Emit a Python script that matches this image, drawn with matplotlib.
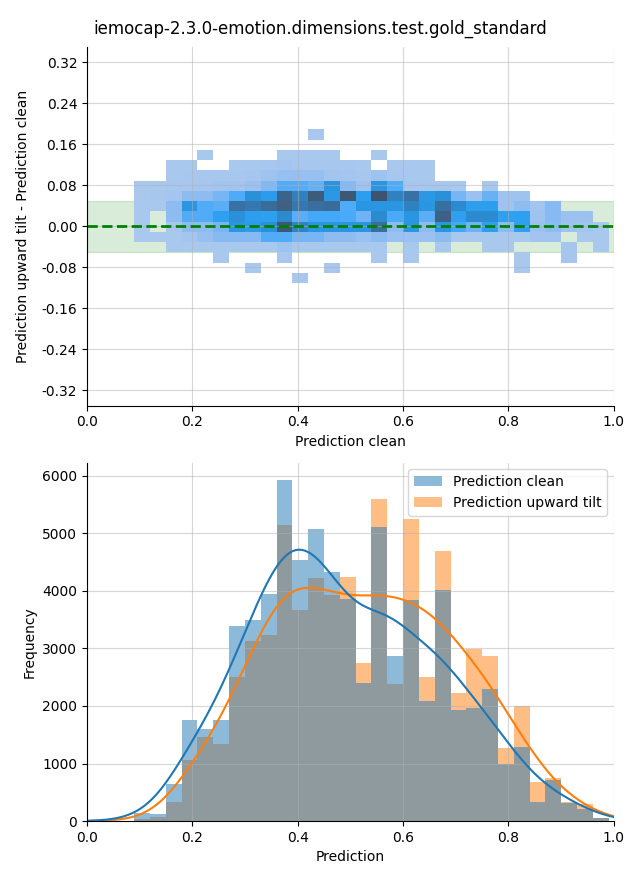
import numpy as np
import pandas as pd
import matplotlib
matplotlib.use("Agg")
import matplotlib.pyplot as plt
import seaborn as sns

title = "iemocap-2.3.0-emotion.dimensions.test.gold_standard"
labels = ["Prediction clean", "Prediction upward tilt"]

# bin layout (30 bins in x, 15 in y)
x_edges = list(np.linspace(0.0895, 0.9905, 31))
y_edges = list(np.linspace(-0.111, 0.189, 16))

# histogram counts per x bin
clean_counts = [140, 122, 647, 1754, 1597, 1754, 3391, 3496, 3949, 5935,
                4530, 5081, 4326, 3862, 2398, 5116, 2869, 3844, 2085, 4019,
                1934, 1969, 2294, 991, 1289, 332, 705, 309, 210, 60]
tilt_counts = [40, 64, 338, 1067, 1463, 1336, 2503, 3130, 3240, 5139,
               3670, 4228, 3931, 4245, 2747, 5604, 2381, 5255, 2503, 4698,
               2224, 2985, 2869, 1271, 1992, 670, 746, 332, 297, 55]

# 2d counts (difference vs clean), rows listed top -> bottom
diff_rows = [
    [0, 0, 0, 0, 0, 0, 0, 0, 0, 0, 0, 20, 0, 0, 0, 0, 0, 0, 0, 0, 0, 0, 0, 0, 0, 0, 0, 0, 0, 0],
    [0, 0, 0, 0, 0, 0, 0, 0, 0, 0, 0, 0, 0, 0, 0, 0, 0, 0, 0, 0, 0, 0, 0, 0, 0, 0, 0, 0, 0, 0],
    [0, 0, 0, 0, 20, 0, 0, 0, 0, 20, 20, 20, 20, 0, 0, 20, 0, 0, 0, 0, 0, 0, 0, 0, 0, 0, 0, 0, 0, 0],
    [0, 0, 20, 20, 0, 0, 20, 20, 25, 50, 30, 30, 30, 25, 20, 0, 20, 20, 20, 0, 0, 0, 0, 0, 0, 0, 0, 0, 0, 0],
    [0, 0, 20, 25, 30, 25, 30, 40, 80, 120, 120, 120, 60, 50, 30, 80, 30, 20, 20, 0, 0, 0, 0, 0, 0, 0, 0, 0, 0, 0],
    [20, 20, 25, 30, 40, 60, 60, 100, 220, 410, 400, 350, 700, 200, 80, 680, 420, 40, 30, 25, 20, 0, 20, 0, 0, 0, 0, 0, 0, 0],
    [20, 25, 50, 170, 170, 270, 420, 750, 600, 1300, 930, 1400, 660, 1450, 580, 1500, 930, 1130, 660, 750, 270, 100, 330, 80, 80, 0, 0, 0, 0, 0],
    [20, 20, 170, 680, 410, 380, 1130, 1050, 1200, 1350, 1050, 1150, 1200, 420, 680, 680, 680, 930, 680, 1150, 830, 580, 580, 80, 170, 60, 200, 0, 0, 0],
    [20, 0, 170, 410, 410, 560, 750, 580, 560, 830, 380, 450, 450, 430, 300, 830, 430, 680, 380, 1330, 560, 830, 830, 560, 560, 80, 200, 100, 100, 0],
    [20, 0, 30, 170, 170, 270, 680, 600, 750, 1450, 900, 680, 680, 680, 680, 1170, 170, 680, 170, 680, 450, 300, 560, 170, 560, 100, 170, 80, 60, 20],
    [20, 20, 20, 50, 120, 200, 200, 200, 410, 410, 270, 270, 170, 170, 100, 170, 100, 100, 100, 170, 20, 20, 20, 20, 20, 60, 60, 0, 20, 20],
    [0, 0, 20, 20, 20, 20, 20, 20, 20, 80, 20, 20, 20, 20, 20, 20, 0, 20, 0, 20, 0, 0, 20, 20, 0, 0, 0, 40, 0, 20],
    [0, 0, 0, 0, 0, 20, 0, 0, 0, 20, 0, 0, 0, 0, 0, 20, 0, 20, 0, 0, 0, 0, 0, 0, 20, 0, 0, 40, 0, 0],
    [0, 0, 0, 0, 0, 0, 0, 20, 0, 0, 0, 0, 20, 0, 0, 0, 0, 0, 0, 0, 0, 0, 0, 0, 20, 0, 0, 0, 0, 0],
    [0, 0, 0, 0, 0, 0, 0, 0, 0, 0, 20, 0, 0, 0, 0, 0, 0, 0, 0, 0, 0, 0, 0, 0, 0, 0, 0, 0, 0, 0],
]

xe = np.array(x_edges)
ye = np.array(y_edges)
xc = (xe[:-1] + xe[1:]) / 2
yc = (ye[:-1] + ye[1:]) / 2
grid = np.array(diff_rows)[::-1]
X, Y = np.meshgrid(xc, yc)

fig, (ax1, ax2) = plt.subplots(2, 1, figsize=(6.4, 8.8))
fig.subplots_adjust(left=0.136, right=0.959, top=0.9466, bottom=0.067, hspace=0.159)
fig.suptitle(title, fontsize=12, y=0.978)

# top: difference vs clean prediction
ax1.axhspan(-0.05, 0.05, color="green", alpha=0.15, zorder=0)
sns.histplot(x=X.ravel(), y=Y.ravel(), weights=grid.ravel(),
             bins=[x_edges, y_edges], ax=ax1)
ax1.axhline(0, color="green", linestyle="--", linewidth=2)
ax1.set_xlim(0, 1)
ax1.set_ylim(-0.35, 0.35)
ax1.set_yticks(np.arange(-0.32, 0.33, 0.08))
ax1.set_yticklabels([f"{v:.2f}" for v in np.arange(-0.32, 0.33, 0.08)])
ax1.set_xlabel("Prediction clean")
ax1.set_ylabel("Prediction upward tilt - Prediction clean", labelpad=8)
ax1.grid(alpha=0.5)

# bottom: distributions of both predictions
df = pd.DataFrame({
    "Prediction": np.concatenate([xc, xc]),
    "count": clean_counts + tilt_counts,
    "which": [labels[0]] * len(xc) + [labels[1]] * len(xc),
})
sns.histplot(data=df, x="Prediction", weights="count", hue="which",
             hue_order=labels, bins=x_edges, kde=True, linewidth=0,
             kde_kws={"bw_adjust": 0.5, "cut": 3}, ax=ax2)
sns.move_legend(ax2, "upper right", title=None)
ax2.set_xlim(0, 1)
ax2.set_xlabel("Prediction")
ax2.set_ylabel("Frequency")
ax2.grid(alpha=0.5)

sns.despine(fig=fig)
plt.savefig("out.png", dpi=100)
